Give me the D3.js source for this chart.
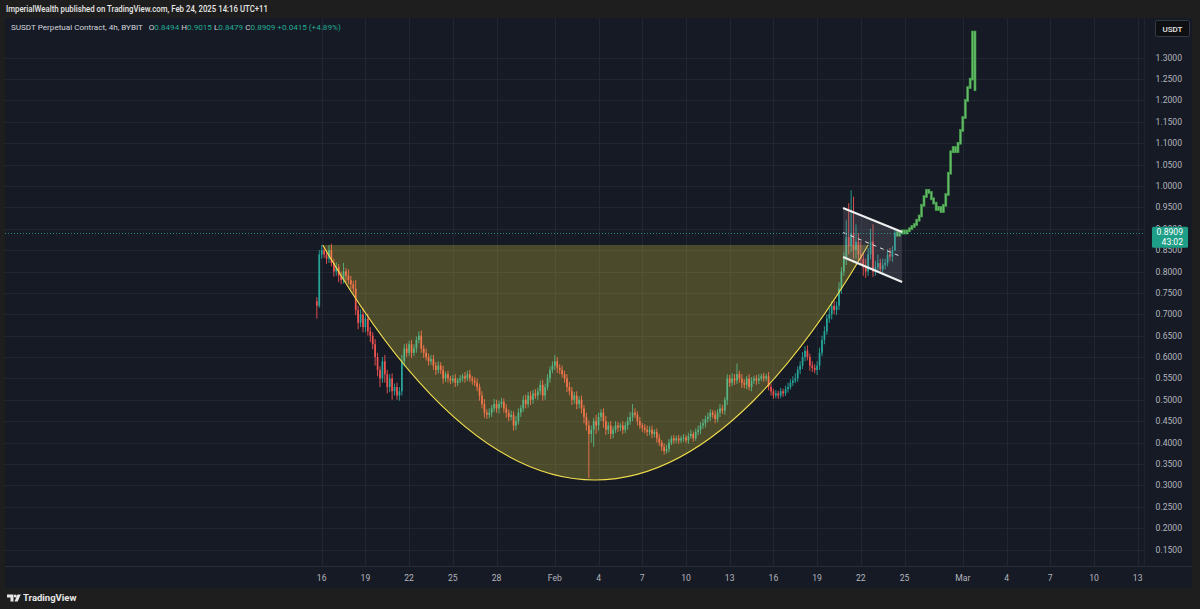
<!DOCTYPE html>
<html><head><meta charset="utf-8">
<script src="https://cdn.jsdelivr.net/npm/d3@7"></script>
<style>html,body{margin:0;padding:0;background:#1e1e1e;}svg{display:block;}</style>
</head><body><svg id="c" width="1200" height="609"></svg>
<script>
// ---- DATA ----
const firstOpen = 0.73;
const closes = [0.72,0.84,0.85,0.84,0.83,0.85,0.82,0.80,0.81,0.79,
 0.78,0.80,0.79,0.78,0.77,0.76,0.71,0.68,0.70,0.67,
 0.69,0.66,0.65,0.63,0.60,0.57,0.55,0.59,0.56,0.53,
 0.55,0.52,0.53,0.51,0.52,0.59,0.62,0.61,0.63,0.61,
 0.62,0.64,0.65,0.62,0.61,0.60,0.59,0.595,0.58,0.57,
 0.58,0.57,0.55,0.56,0.55,0.545,0.55,0.54,0.545,0.55,
 0.555,0.55,0.56,0.55,0.545,0.54,0.53,0.51,0.49,0.47,
 0.465,0.47,0.48,0.49,0.48,0.49,0.495,0.48,0.47,0.46,
 0.465,0.44,0.45,0.47,0.48,0.50,0.49,0.51,0.50,0.515,
 0.51,0.52,0.535,0.51,0.53,0.55,0.57,0.58,0.59,0.575,
 0.57,0.56,0.55,0.53,0.52,0.50,0.51,0.49,0.50,0.48,
 0.46,0.44,0.42,0.43,0.45,0.44,0.46,0.47,0.45,0.43,
 0.44,0.42,0.43,0.44,0.435,0.44,0.43,0.44,0.45,0.46,
 0.47,0.465,0.45,0.44,0.435,0.43,0.425,0.43,0.42,0.425,
 0.41,0.40,0.39,0.38,0.385,0.40,0.41,0.405,0.41,0.405,
 0.41,0.412,0.405,0.415,0.42,0.41,0.425,0.43,0.44,0.445,
 0.455,0.46,0.47,0.465,0.455,0.47,0.48,0.475,0.50,0.55,
 0.54,0.55,0.545,0.56,0.55,0.54,0.535,0.55,0.53,0.545,
 0.55,0.545,0.55,0.555,0.55,0.555,0.53,0.52,0.51,0.515,
 0.51,0.52,0.515,0.525,0.53,0.54,0.545,0.55,0.57,0.58,
 0.60,0.615,0.60,0.58,0.575,0.57,0.58,0.61,0.64,0.66,
 0.69,0.70,0.72,0.71,0.72,0.76,0.80,0.83,0.88,0.86,
 0.89,0.85,0.87,0.84,0.83,0.81,0.80,0.84,0.87,0.80,
 0.81,0.82,0.805,0.815,0.82,0.84,0.835,0.8494,0.8909];
const wickUp = [0.010,0.010,0.012,0.008,0.010,0.012,0.015,0.010,0.012,0.008,
 0.010,0.020,0.008,0.015,0.010,0.008,0.020,0.010,0.012,0.015,
 0.010,0.012,0.010,0.008,0.012,0.010,0.008,0.010,0.015,0.010,
 0.010,0.012,0.008,0.010,0.010,0.015,0.010,0.012,0.008,0.010,
 0.010,0.008,0.010,0.012,0.008,0.010,0.008,0.010,0.010,0.008,
 0.010,0.008,0.010,0.006,0.008,0.006,0.008,0.010,0.006,0.008,
 0.006,0.010,0.008,0.010,0.006,0.008,0.010,0.008,0.010,0.012,
 0.008,0.010,0.008,0.012,0.010,0.008,0.010,0.008,0.010,0.008,
 0.010,0.008,0.012,0.010,0.008,0.010,0.012,0.008,0.010,0.008,
 0.010,0.008,0.010,0.012,0.008,0.010,0.008,0.010,0.015,0.010,
 0.008,0.010,0.008,0.010,0.012,0.010,0.008,0.010,0.008,0.010,
 0.008,0.010,0.012,0.010,0.008,0.015,0.010,0.008,0.010,0.012,
 0.008,0.010,0.008,0.010,0.008,0.006,0.010,0.008,0.010,0.012,
 0.020,0.010,0.008,0.010,0.006,0.008,0.010,0.008,0.010,0.006,
 0.008,0.010,0.006,0.008,0.010,0.008,0.006,0.008,0.006,0.008,
 0.006,0.008,0.006,0.008,0.010,0.006,0.008,0.010,0.008,0.010,
 0.008,0.010,0.008,0.006,0.010,0.008,0.010,0.008,0.006,0.010,
 0.008,0.012,0.010,0.025,0.008,0.010,0.008,0.006,0.010,0.008,
 0.006,0.008,0.010,0.006,0.008,0.006,0.010,0.008,0.006,0.008,
 0.006,0.008,0.006,0.008,0.010,0.008,0.010,0.012,0.008,0.010,
 0.012,0.010,0.012,0.008,0.010,0.008,0.010,0.012,0.010,0.012,
 0.010,0.015,0.010,0.012,0.010,0.015,0.010,0.015,0.040,0.080,
 0.100,0.085,0.040,0.020,0.030,0.015,0.020,0.015,0.030,0.040,
 0.015,0.020,0.010,0.015,0.010,0.012,0.015,0.010,0.0106];
const wickDn = [0.030,0.005,0.010,0.008,0.012,0.010,0.008,0.012,0.010,0.015,
 0.010,0.008,0.015,0.010,0.012,0.010,0.012,0.015,0.010,0.012,
 0.012,0.010,0.015,0.012,0.020,0.015,0.020,0.010,0.020,0.015,
 0.012,0.020,0.010,0.010,0.012,0.010,0.012,0.010,0.008,0.012,
 0.008,0.010,0.008,0.010,0.012,0.008,0.010,0.008,0.010,0.012,
 0.008,0.010,0.012,0.008,0.010,0.008,0.006,0.010,0.008,0.006,
 0.008,0.010,0.006,0.008,0.010,0.008,0.010,0.012,0.010,0.012,
 0.010,0.008,0.010,0.008,0.010,0.012,0.008,0.010,0.012,0.010,
 0.008,0.012,0.010,0.008,0.010,0.008,0.010,0.008,0.012,0.010,
 0.008,0.010,0.008,0.012,0.010,0.008,0.010,0.008,0.010,0.012,
 0.010,0.008,0.010,0.012,0.010,0.012,0.010,0.012,0.010,0.012,
 0.015,0.012,0.103,0.020,0.040,0.020,0.012,0.010,0.015,0.012,
 0.010,0.012,0.010,0.008,0.010,0.008,0.010,0.008,0.010,0.008,
 0.010,0.008,0.010,0.008,0.010,0.008,0.010,0.008,0.010,0.008,
 0.010,0.008,0.010,0.008,0.006,0.008,0.006,0.008,0.006,0.008,
 0.006,0.008,0.006,0.008,0.006,0.008,0.006,0.008,0.010,0.008,
 0.010,0.008,0.010,0.008,0.010,0.008,0.010,0.008,0.010,0.012,
 0.010,0.008,0.010,0.008,0.010,0.012,0.008,0.010,0.008,0.010,
 0.008,0.010,0.008,0.006,0.008,0.006,0.008,0.010,0.008,0.006,
 0.008,0.006,0.008,0.006,0.008,0.006,0.008,0.006,0.008,0.010,
 0.008,0.010,0.008,0.012,0.010,0.008,0.012,0.010,0.008,0.010,
 0.008,0.010,0.012,0.010,0.012,0.010,0.012,0.010,0.015,0.020,
 0.015,0.020,0.020,0.015,0.015,0.020,0.015,0.010,0.012,0.013,
 0.010,0.012,0.010,0.012,0.010,0.008,0.010,0.012,0.0015];
// projected bars (drawn pattern after the last real candle)
const projCloses = [0.885,0.89,0.895,0.89,0.895,0.90,0.905,0.91,0.92,0.93,
 0.955,0.975,0.99,0.985,0.97,0.96,0.945,0.95,0.94,0.955,
 0.98,1.03,1.08,1.09,1.08,1.10,1.13,1.16,1.20,1.23,
 1.25,1.36,1.225];
const priceTicks = [0.15,0.20,0.25,0.30,0.35,0.40,0.45,0.50,0.55,0.60,0.65,0.70,0.75,0.80,0.85,0.90,0.95,1.00,1.05,1.10,1.15,1.20,1.25,1.30];
const dateTicks = ["2025-01-16","2025-01-19","2025-01-22","2025-01-25","2025-01-28","2025-02-01","2025-02-04","2025-02-07","2025-02-10","2025-02-13","2025-02-16","2025-02-19","2025-02-22","2025-02-25","2025-03-01","2025-03-04","2025-03-07","2025-03-10","2025-03-13"];
const dateLabels = ["16","19","22","25","28","Feb","4","7","10","13","16","19","22","25","Mar","4","7","10","13"];
const firstBarTime = "2025-01-15T16:00:00Z";
const lastPrice = 0.8909;
const countdown = "43:02";
// cup (arc drawing): start, bottom, end
const cupTimes = ["2025-01-16T01:40:00Z","2025-02-03T18:00:00Z","2025-02-22T12:00:00Z"];
const cupPrices = [0.862, 0.3126, 0.862];
// flag channel
const flagTimes = ["2025-02-20T18:40:00Z","2025-02-24T20:00:00Z"];
const flagUpper = [0.9486, 0.8924];
const flagLower = [0.834, 0.7755];

// ---- SCALES ----
const svg = d3.select("#c");
const W = 1200, H = 609;
const plotL = 5, plotR = 1144, plotT = 18, plotB = 566;
const x = d3.scaleUtc().domain([new Date("2025-01-16T00:00:00Z"), new Date("2025-03-13T00:00:00Z")]).range([321.7, 1137.7]);
const y = d3.scaleLinear().domain([0.15, 1.30]).range([549.5, 57.7]);
const H4 = 4*3600*1000;
const t0 = new Date(firstBarTime).getTime();
const FONT = "Roboto, 'Noto Sans', sans-serif";

// backgrounds
svg.append("rect").attr("width",W).attr("height",H).attr("fill","#1e1e1e");
svg.append("rect").attr("x",plotL).attr("y",plotT).attr("width",1192-plotL).attr("height",588-plotT).attr("fill","#161a25");

// header
svg.append("text").attr("x",6).attr("y",12).attr("fill","#e6e6e6").attr("font-family",FONT)
  .attr("font-size",8.8).attr("font-weight",500).attr("textLength",262).attr("lengthAdjust","spacingAndGlyphs")
  .text("ImperialWealth published on TradingView.com, Feb 24, 2025 14:16 UTC+11");

// grid
const gGrid = svg.append("g");
gGrid.selectAll("line.h").data(priceTicks).join("line").attr("x1",plotL).attr("x2",plotR)
  .attr("y1",d=>Math.round(y(d))+0.5).attr("y2",d=>Math.round(y(d))+0.5).attr("stroke","#222633").attr("stroke-width",1);
gGrid.selectAll("line.v").data(dateTicks).join("line").attr("y1",plotT).attr("y2",plotB)
  .attr("x1",d=>Math.round(x(new Date(d+"T00:00:00Z")))+0.5).attr("x2",d=>Math.round(x(new Date(d+"T00:00:00Z")))+0.5)
  .attr("stroke","#222633").attr("stroke-width",1);

// clip
svg.append("clipPath").attr("id","clip").append("rect").attr("x",plotL).attr("y",plotT).attr("width",plotR-plotL).attr("height",plotB-plotT);
const gPlot = svg.append("g").attr("clip-path","url(#clip)");

// candles
const candles = closes.map((c,i)=>{
  const o = i===0 ? firstOpen : closes[i-1];
  return {t:new Date(t0+i*H4), o, c, h:Math.max(o,c)+wickUp[i], l:Math.min(o,c)-wickDn[i]};
});
const bw = 1.7;
const gC = gPlot.append("g");
gC.selectAll("line").data(candles).join("line")
  .attr("x1",d=>x(d.t)).attr("x2",d=>x(d.t)).attr("y1",d=>y(d.h)).attr("y2",d=>y(d.l))
  .attr("stroke",d=>d.c>=d.o?"#26a69a":"#ef5350").attr("stroke-width",0.9);
gC.selectAll("rect").data(candles).join("rect")
  .attr("x",d=>x(d.t)-bw/2).attr("width",bw)
  .attr("y",d=>y(Math.max(d.o,d.c))).attr("height",d=>Math.max(1,Math.abs(y(d.o)-y(d.c))))
  .attr("fill",d=>d.c>=d.o?"#26a69a":"#ef5350");

// projected bars
const proj = projCloses.map((c,j)=>{
  const o = j===0 ? closes[closes.length-1] : projCloses[j-1];
  return {t:new Date(t0+(closes.length+j)*H4), o, c};
});
gPlot.append("g").selectAll("rect").data(proj).join("rect")
  .attr("x",d=>x(d.t)-1).attr("width",2)
  .attr("y",d=>y(Math.max(d.o,d.c))-1).attr("height",d=>Math.abs(y(d.o)-y(d.c))+2)
  .attr("fill","#66bb6a").attr("stroke","#43a047").attr("stroke-width",0.6);

// cup
const cp = cupTimes.map((t,i)=>[x(new Date(t)), y(cupPrices[i])]);
const ctrl = [2*cp[1][0]-(cp[0][0]+cp[2][0])/2, 2*cp[1][1]-(cp[0][1]+cp[2][1])/2];
const cupPath = d3.path();
cupPath.moveTo(cp[0][0],cp[0][1]);
cupPath.quadraticCurveTo(ctrl[0],ctrl[1],cp[2][0],cp[2][1]);
const cupArc = cupPath.toString();
gPlot.append("path").attr("d",cupArc+"Z").attr("fill","rgba(255,235,59,0.23)");
gPlot.append("path").attr("d",cupArc).attr("fill","none").attr("stroke","#f2df4d").attr("stroke-width",1.1);

// flag channel
const fx = flagTimes.map(t=>x(new Date(t)));
const poly = [[fx[0],y(flagUpper[0])],[fx[1],y(flagUpper[1])],[fx[1],y(flagLower[1])],[fx[0],y(flagLower[0])]];
gPlot.append("path").attr("d",d3.line()(poly)+"Z").attr("fill","rgba(140,143,155,0.22)");
const line2 = (a,b)=>gPlot.append("line").attr("x1",fx[0]).attr("x2",fx[1]).attr("y1",y(a)).attr("y2",y(b));
line2(flagUpper[0],flagUpper[1]).attr("stroke","#f0f0f0").attr("stroke-width",2);
line2(flagLower[0],flagLower[1]).attr("stroke","#f0f0f0").attr("stroke-width",2);
line2((flagUpper[0]+flagLower[0])/2,(flagUpper[1]+flagLower[1])/2).attr("stroke","#e0e0e0").attr("stroke-width",1).attr("stroke-dasharray","4,4");

// last price line
svg.append("line").attr("x1",plotL).attr("x2",plotR).attr("y1",Math.round(y(lastPrice))+0.5).attr("y2",Math.round(y(lastPrice))+0.5)
  .attr("stroke","#26a69a").attr("stroke-opacity",0.8).attr("stroke-dasharray","1,2");

// legend
const leg = svg.append("text").attr("x",11).attr("y",30).attr("font-family",FONT).attr("font-size",8.1).attr("fill","#d1d4dc")
  .attr("xml:space","preserve");
leg.append("tspan").text("SUSDT Perpetual Contract, 4h, BYBIT  ");
const legVals = [["O","0.8494"],["H","0.9015"],["L","0.8479"],["C","0.8909"]];
legVals.forEach(([k,v])=>{leg.append("tspan").text(" "+k);leg.append("tspan").attr("fill","#22ab94").text(v);});
leg.append("tspan").attr("fill","#22ab94").text(" +0.0415 (+4.89%)");

// price axis
svg.append("line").attr("x1",plotR+0.5).attr("x2",plotR+0.5).attr("y1",plotT).attr("y2",plotB).attr("stroke","#1f2330");
svg.append("g").selectAll("text").data(priceTicks).join("text")
  .attr("x",1182).attr("y",d=>y(d)).attr("dy","0.35em").attr("text-anchor","end")
  .attr("font-family",FONT).attr("font-size",8.6).attr("fill","#b2b5be")
  .text(d=>d.toFixed(4));
// USDT button
svg.append("rect").attr("x",1155.5).attr("y",20.5).attr("width",34).attr("height",16).attr("rx",2).attr("fill","#0e0f13").attr("stroke","#363a45");
svg.append("text").attr("x",1172.5).attr("y",31.5).attr("text-anchor","middle").attr("font-family",FONT).attr("font-size",8).attr("font-weight",500).attr("fill","#e6e6e6").text("USDT");
// last price label (covers the neighbouring axis labels, as in the reference)
const ly = y(lastPrice);
svg.append("rect").attr("x",1152).attr("y",ly-6).attr("width",36).attr("height",21).attr("rx",1.5).attr("fill","#1e9e86");
svg.append("text").attr("x",1183).attr("y",ly+2.8).attr("text-anchor","end").attr("font-family",FONT).attr("font-size",8.6).attr("fill","#ffffff").text(lastPrice.toFixed(4));
svg.append("text").attr("x",1183).attr("y",ly+12.3).attr("text-anchor","end").attr("font-family",FONT).attr("font-size",8.6).attr("fill","#ffffff").text(countdown);

// time axis
svg.append("line").attr("x1",plotL).attr("x2",1192).attr("y1",plotB+0.5).attr("y2",plotB+0.5).attr("stroke","#2a2e39");
svg.append("g").selectAll("text").data(dateTicks).join("text")
  .attr("x",d=>x(new Date(d+"T00:00:00Z"))).attr("y",580.5).attr("text-anchor","middle")
  .attr("font-family",FONT).attr("font-size",8.6).attr("fill","#b2b5be")
  .text((d,i)=>dateLabels[i]);

// footer logo
const logo = svg.append("g").attr("fill","#e8e8e8");
logo.append("path").attr("d","M7 594.5 h6.5 v7 h-3 v-4 h-3.5 z");
logo.append("circle").attr("cx",15.3).attr("cy",596).attr("r",1.5);
logo.append("path").attr("d","M17.5 594.5 h3.2 l-3 7 h-3.2 z");
svg.append("text").attr("x",23).attr("y",601.3).attr("font-family",FONT).attr("font-size",9.5).attr("font-weight",700).attr("fill","#e8e8e8").text("TradingView");
</script></body></html>
